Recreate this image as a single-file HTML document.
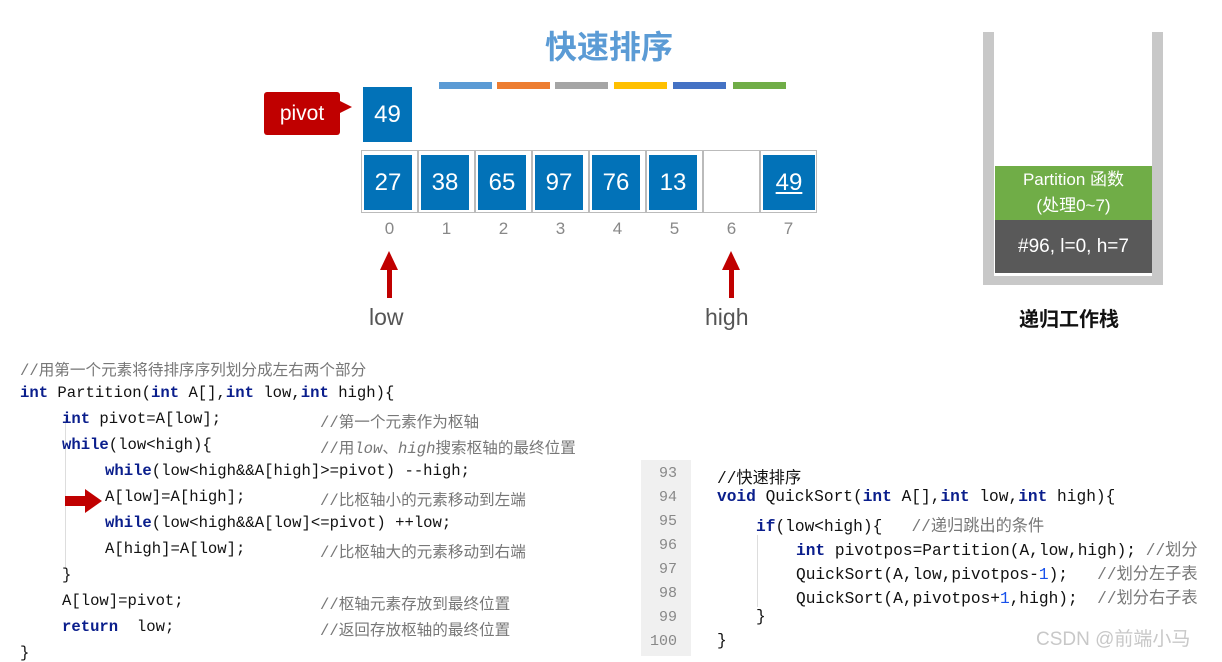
<!DOCTYPE html>
<html><head><meta charset="utf-8"><style>
body{margin:0;width:1222px;height:656px;background:#fff;position:relative;overflow:hidden;font-family:"Liberation Sans","Noto Sans CJK SC",sans-serif}
.a{position:absolute}
.box{position:absolute;background:#0272b8;color:#fff;font-size:24px;text-align:center;line-height:55px;width:48px;height:55px}
.cell{position:absolute;top:150px;height:63px;width:57px;border:1px solid #bbb;box-sizing:border-box}
.idx{position:absolute;top:219px;width:57px;text-align:center;color:#888;font-size:17px}
.bar{position:absolute;top:82px;height:7px;width:53px}
.code{position:absolute;white-space:pre;font-family:"Liberation Mono","Noto Sans CJK SC",monospace;font-size:15.6px;color:#111}
.k{color:#0a1e8c;font-weight:bold}
.c{color:#777}
.r{position:absolute;white-space:pre;font-family:"Liberation Mono","Noto Sans CJK SC",monospace;font-size:16.2px;color:#111}
.ln{position:absolute;left:641px;width:36px;text-align:right;font-family:"Liberation Mono",monospace;font-size:15px;color:#888}
</style></head><body>
<div class="a" style="left:545px;top:22px;font-size:32px;font-weight:bold;color:#5b9bd5">快速排序</div>
<div class="bar" style="left:439px;background:#5b9bd5"></div>
<div class="bar" style="left:497px;background:#ed7d31"></div>
<div class="bar" style="left:555px;background:#a5a5a5"></div>
<div class="bar" style="left:614px;background:#ffc000"></div>
<div class="bar" style="left:673px;background:#4472c4"></div>
<div class="bar" style="left:733px;background:#70ad47"></div>
<div class="a" style="left:264px;top:92px;width:76px;height:43px;background:#c00000;color:#fff;font-size:21px;line-height:43px;text-align:center;border-radius:3px">pivot</div>
<div class="a" style="left:338px;top:100px;width:0;height:0;border-left:14px solid #c00000;border-top:7px solid transparent;border-bottom:7px solid transparent"></div>
<div class="box" style="left:363px;top:87px;width:49px">49</div>
<div class="cell" style="left:361px"></div><div class="cell" style="left:418px"></div><div class="cell" style="left:475px"></div><div class="cell" style="left:532px"></div><div class="cell" style="left:589px"></div><div class="cell" style="left:646px"></div><div class="cell" style="left:703px"></div><div class="cell" style="left:760px"></div>
<div class="box" style="left:364px;top:155px">27</div>
<div class="box" style="left:421px;top:155px">38</div>
<div class="box" style="left:478px;top:155px">65</div>
<div class="box" style="left:535px;top:155px">97</div>
<div class="box" style="left:592px;top:155px">76</div>
<div class="box" style="left:649px;top:155px">13</div>
<div class="box" style="left:763px;top:155px;width:52px"><span style="text-decoration:underline">49</span></div>
<div class="idx" style="left:361px">0</div><div class="idx" style="left:418px">1</div><div class="idx" style="left:475px">2</div><div class="idx" style="left:532px">3</div><div class="idx" style="left:589px">4</div><div class="idx" style="left:646px">5</div><div class="idx" style="left:703px">6</div><div class="idx" style="left:760px">7</div>
<div class="a" style="left:387px;top:268px;width:5px;height:30px;background:#c00000"></div>
<div class="a" style="left:380px;top:251px;border-bottom:19px solid #c00000;border-left:9.5px solid transparent;border-right:9.5px solid transparent"></div>
<div class="a" style="left:729px;top:268px;width:5px;height:30px;background:#c00000"></div>
<div class="a" style="left:722px;top:251px;border-bottom:19px solid #c00000;border-left:9.5px solid transparent;border-right:9.5px solid transparent"></div>
<div class="a" style="left:369px;top:304px;font-size:23px;color:#555">low</div>
<div class="a" style="left:705px;top:304px;font-size:23px;color:#555">high</div>
<div class="a" style="left:983px;top:32px;width:11px;height:253px;background:#c8c8c8"></div>
<div class="a" style="left:1152px;top:32px;width:11px;height:253px;background:#c8c8c8"></div>
<div class="a" style="left:983px;top:276px;width:180px;height:9px;background:#c8c8c8"></div>
<div class="a" style="left:995px;top:166px;width:157px;height:54px;background:#70ad47;color:#fff;font-size:17px;text-align:center;line-height:26px;padding-top:1px">Partition 函数<br>(处理0~7)</div>
<div class="a" style="left:995px;top:220px;width:157px;height:53px;background:#595959;color:#fff;font-size:19px;text-align:center;line-height:53px">#96, l=0, h=7</div>
<div class="a" style="left:1019px;top:303px;font-size:20px;font-weight:bold;color:#111">递归工作栈</div>

<div class="a" style="left:65px;top:418px;width:1px;height:150px;background:#ddd"></div>
<div class="code c" style="left:20px;top:358px">//用第一个元素将待排序序列划分成左右两个部分</div>
<div class="code" style="left:20px;top:384px"><span class="k">int</span> Partition(<span class="k">int</span> A[],<span class="k">int</span> low,<span class="k">int</span> high){</div>
<div class="code" style="left:62px;top:410px"><span class="k">int</span> pivot=A[low];</div><div class="code c" style="left:320px;top:410px">//第一个元素作为枢轴</div>
<div class="code" style="left:62px;top:436px"><span class="k">while</span>(low&lt;high){</div><div class="code c" style="left:320px;top:436px">//用<i>low</i>、<i>high</i>搜索枢轴的最终位置</div>
<div class="code" style="left:105px;top:462px"><span class="k">while</span>(low&lt;high&amp;&amp;A[high]&gt;=pivot) --high;</div>
<div class="a" style="left:65px;top:496px;width:20px;height:10px;background:#c00000"></div>
<div class="a" style="left:85px;top:489px;border-left:17px solid #c00000;border-top:12px solid transparent;border-bottom:12px solid transparent"></div>
<div class="code" style="left:105px;top:488px">A[low]=A[high];</div><div class="code c" style="left:320px;top:488px">//比枢轴小的元素移动到左端</div>
<div class="code" style="left:105px;top:514px"><span class="k">while</span>(low&lt;high&amp;&amp;A[low]&lt;=pivot) ++low;</div>
<div class="code" style="left:105px;top:540px">A[high]=A[low];</div><div class="code c" style="left:320px;top:540px">//比枢轴大的元素移动到右端</div>
<div class="code" style="left:62px;top:566px">}</div>
<div class="code" style="left:62px;top:592px">A[low]=pivot;</div><div class="code c" style="left:320px;top:592px">//枢轴元素存放到最终位置</div>
<div class="code" style="left:62px;top:618px"><span class="k">return</span>  low;</div><div class="code c" style="left:320px;top:618px">//返回存放枢轴的最终位置</div>
<div class="code" style="left:20px;top:644px">}</div>

<div class="a" style="left:641px;top:460px;width:50px;height:196px;background:#f0f0f0"></div>
<div class="ln" style="top:465px">93</div><div class="ln" style="top:489px">94</div><div class="ln" style="top:513px">95</div><div class="ln" style="top:537px">96</div><div class="ln" style="top:561px">97</div><div class="ln" style="top:585px">98</div><div class="ln" style="top:609px">99</div><div class="ln" style="top:633px">100</div>
<div class="a" style="left:757px;top:535px;width:1px;height:72px;background:#ddd"></div>
<div class="r c" style="left:717px;top:464px">//快速排序</div>
<div class="r" style="left:717px;top:488px"><span class="k">void</span> QuickSort(<span class="k">int</span> A[],<span class="k">int</span> low,<span class="k">int</span> high){</div>
<div class="r" style="left:756px;top:512px"><span class="k">if</span>(low&lt;high){   <span class="c">//递归跳出的条件</span></div>
<div class="r" style="left:796px;top:536px"><span class="k">int</span> pivotpos=Partition(A,low,high); <span class="c">//划分</span></div>
<div class="r" style="left:796px;top:560px">QuickSort(A,low,pivotpos-<span style="color:#1750eb">1</span>);   <span class="c">//划分左子表</span></div>
<div class="r" style="left:796px;top:584px">QuickSort(A,pivotpos+<span style="color:#1750eb">1</span>,high);  <span class="c">//划分右子表</span></div>
<div class="r" style="left:756px;top:608px">}</div>
<div class="r" style="left:717px;top:632px">}</div>
<div class="a" style="left:1036px;top:624px;font-size:19px;color:#c8c8c8">CSDN @前端小马</div>
</body></html>
